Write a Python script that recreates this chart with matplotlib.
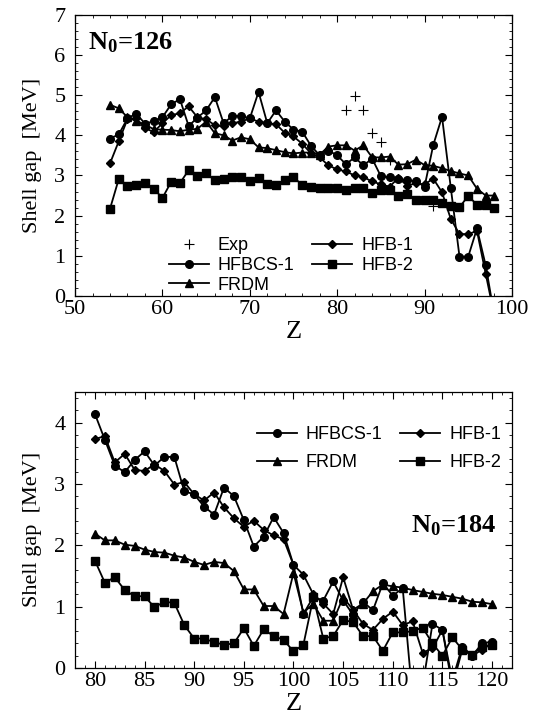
import matplotlib
matplotlib.use("Agg")
import matplotlib.pyplot as plt
from matplotlib.ticker import MultipleLocator

plt.rcParams["mathtext.fontset"] = "custom"
plt.rcParams["mathtext.rm"] = "Liberation Serif"
plt.rcParams["mathtext.bf"] = "Liberation Serif:bold"
plt.rcParams["mathtext.it"] = "Liberation Serif:italic"

# ---------------- N0 = 126 panel ----------------
z_top = list(range(54, 99))
hfbcs1_top = [3.92, 4.02, 4.42, 4.54, 4.29, 4.35, 4.45, 4.77, 4.90, 4.23,
              4.44, 4.62, 4.95, 4.30, 4.48, 4.48, 4.42, 5.08, 4.30, 4.62,
              4.34, 4.14, 4.09, 3.74, 3.50, 3.62, 3.50, 3.28, 3.45, 3.25,
              3.42, 2.98, 2.95, 2.92, 2.88, 2.86, 2.72, 3.76, 4.46, 2.70,
              0.98, 0.98, 1.68, 0.76, -0.50]
hfb1_top = [3.30, 3.85, 4.40, 4.42, 4.18, 4.08, 4.30, 4.50, 4.55, 4.72,
            4.45, 4.40, 4.25, 4.22, 4.30, 4.34, 4.42, 4.34, 4.30, 4.28,
            4.06, 3.97, 3.79, 3.55, 3.45, 3.25, 3.15, 3.10, 3.00, 2.96,
            2.85, 2.78, 2.72, 2.94, 2.75, 2.80, 2.78, 2.92, 2.58, 1.92,
            1.54, 1.54, 1.62, 0.55, -0.50]
frdm_top = [4.76, 4.67, 4.45, 4.35, 4.27, 4.15, 4.14, 4.13, 4.10, 4.14,
            4.16, 4.34, 4.05, 4.00, 3.87, 3.95, 3.90, 3.70, 3.68, 3.63,
            3.58, 3.55, 3.57, 3.57, 3.52, 3.72, 3.75, 3.75, 3.62, 3.75,
            3.45, 3.45, 3.47, 3.27, 3.28, 3.39, 3.26, 3.24, 3.18, 3.11,
            3.05, 3.00, 2.67, 2.50, 2.50]
hfb2_top = [2.17, 2.91, 2.74, 2.76, 2.82, 2.67, 2.44, 2.84, 2.81, 3.13,
            2.98, 3.05, 2.88, 2.90, 2.96, 2.96, 2.87, 2.93, 2.78, 2.76,
            2.89, 2.96, 2.76, 2.72, 2.68, 2.70, 2.70, 2.65, 2.68, 2.68,
            2.56, 2.63, 2.63, 2.49, 2.55, 2.39, 2.39, 2.39, 2.32, 2.25,
            2.21, 2.49, 2.27, 2.27, 2.19]
z_exp = [81, 82, 83, 84, 85, 86, 91]
exp_top = [4.62, 4.97, 4.62, 4.05, 3.83, 3.38, 2.24]

# ---------------- N0 = 184 panel ----------------
z_bot = list(range(80, 121))
hfbcs1_bot = [4.14, 3.72, 3.30, 3.19, 3.39, 3.53, 3.30, 3.44, 3.44, 2.88,
              2.83, 2.63, 2.50, 2.94, 2.80, 2.41, 1.98, 2.14, 2.46, 2.20,
              1.68, 0.88, 1.16, 1.10, 1.41, 1.10, 0.87, 1.08, 0.94, 1.38,
              1.18, 1.30, -0.50, -0.30, 0.72, 0.62, -0.20, 0.35, 0.20, 0.40,
              0.43]
hfb1_bot = [3.73, 3.78, 3.35, 3.49, 3.23, 3.21, 3.32, 3.21, 2.99, 3.03,
            2.83, 2.73, 2.86, 2.62, 2.44, 2.30, 2.40, 2.25, 2.16, 2.10,
            1.68, 1.52, 1.20, 1.05, 0.88, 1.48, 0.95, 0.72, 0.62, 0.80,
            0.92, 0.70, 0.76, 0.25, 0.32, 0.62, -0.30, 0.30, 0.20, 0.30,
            0.40]
frdm_bot = [2.19, 2.08, 2.08, 2.01, 1.99, 1.93, 1.89, 1.88, 1.83, 1.80,
            1.73, 1.68, 1.73, 1.71, 1.58, 1.28, 1.28, 1.01, 1.01, 0.88,
            1.55, 0.90, 1.05, 0.77, 0.77, 1.15, 0.95, 1.05, 1.25, 1.36,
            1.33, 1.31, 1.27, 1.24, 1.21, 1.19, 1.16, 1.13, 1.08, 1.07,
            1.04]
hfb2_bot = [1.75, 1.39, 1.48, 1.27, 1.17, 1.17, 0.99, 1.08, 1.06, 0.70,
            0.48, 0.48, 0.42, 0.38, 0.40, 0.65, 0.36, 0.63, 0.52, 0.46,
            0.27, 0.38, 1.15, 0.48, 0.52, 0.78, 0.75, 0.52, 0.52, 0.28,
            0.58, 0.58, 0.60, 0.66, 0.40, 0.20, 0.50, 0.30, 0.22, 0.35,
            0.38]

SERIF = ["Liberation Serif", "DejaVu Serif"]
SANS = ["Liberation Sans", "DejaVu Sans"]

fig = plt.figure(figsize=(5.40, 7.21), dpi=100)
ax1 = fig.add_axes([0.139, 0.5895, 0.809, 0.390])
ax2 = fig.add_axes([0.139, 0.0735, 0.809, 0.383])

lw = 1.3
kw = dict(color="black", lw=lw)


def style(ax):
    ax.tick_params(which="both", direction="in", top=True, right=True,
                   labelsize=16)
    ax.tick_params(axis="x", pad=3)
    ax.tick_params(axis="y", pad=7)
    ax.tick_params(which="major", length=5, width=0.8)
    ax.tick_params(which="minor", length=2.5, width=0.6)
    for lab in ax.get_xticklabels() + ax.get_yticklabels():
        lab.set_fontfamily(SERIF)
    for s in ax.spines.values():
        s.set_linewidth(0.9)


# Top panel
ax1.plot(z_exp, exp_top, ls="none", marker="+", ms=7, mew=0.8,
         color="black", label="Exp")
ax1.plot(z_top, hfbcs1_top, marker="o", ms=5.5, label="HFBCS-1", **kw)
ax1.plot(z_top, frdm_top, marker="^", ms=5.5, label="FRDM", **kw)
ax1.plot(z_top, hfb1_top, marker="D", ms=3.6, label="HFB-1", **kw)
ax1.plot(z_top, hfb2_top, marker="s", ms=5.5, label="HFB-2", **kw)
ax1.set_xlim(50, 100)
ax1.set_ylim(0, 7)
ax1.xaxis.set_major_locator(MultipleLocator(10))
ax1.xaxis.set_minor_locator(MultipleLocator(2))
ax1.yaxis.set_major_locator(MultipleLocator(1))
ax1.yaxis.set_minor_locator(MultipleLocator(0.2))
style(ax1)
ax1.set_xlabel("Z", fontsize=19, family=SERIF, labelpad=1)
ax1.set_ylabel("Shell gap  [MeV]", fontsize=16, family=SERIF, labelpad=9)
ax1.text(0.03, 0.945, r"$\mathbf{N_0}$=126", transform=ax1.transAxes,
         fontsize=19, fontweight="bold", family=SERIF, va="top", ha="left")
h, l = ax1.get_legend_handles_labels()
leg1 = ax1.legend(h, l, ncol=2, loc="lower left", bbox_to_anchor=(0.19, -0.03),
                  frameon=False, prop={"family": SANS, "size": 13},
                  handlelength=2.2, handletextpad=0.5, columnspacing=1.0,
                  labelspacing=0.15, borderaxespad=0.2)

# Bottom panel
ax2.plot(z_bot, hfbcs1_bot, marker="o", ms=5.5, label="HFBCS-1", **kw)
ax2.plot(z_bot, frdm_bot, marker="^", ms=5.5, label="FRDM", **kw)
ax2.plot(z_bot, hfb1_bot, marker="D", ms=3.6, label="HFB-1", **kw)
ax2.plot(z_bot, hfb2_bot, marker="s", ms=5.5, label="HFB-2", **kw)
ax2.set_xlim(78, 122)
ax2.set_ylim(0, 4.5)
ax2.xaxis.set_major_locator(MultipleLocator(5))
ax2.xaxis.set_minor_locator(MultipleLocator(1))
ax2.yaxis.set_major_locator(MultipleLocator(1))
ax2.yaxis.set_minor_locator(MultipleLocator(0.2))
style(ax2)
ax2.set_xlabel("Z", fontsize=19, family=SERIF, labelpad=1)
ax2.set_ylabel("Shell gap  [MeV]", fontsize=16, family=SERIF, labelpad=9)
ax2.text(0.77, 0.47, r"$\mathbf{N_0}$=184", transform=ax2.transAxes,
         fontsize=19, fontweight="bold", family=SERIF, va="bottom", ha="left")
leg2 = ax2.legend(ncol=2, loc="upper right", bbox_to_anchor=(1.0, 0.915),
                  frameon=False, prop={"family": SANS, "size": 13},
                  handlelength=2.2, handletextpad=0.5, columnspacing=1.0,
                  labelspacing=0.6, borderaxespad=0.2)

fig.savefig("out.png", dpi=100)
